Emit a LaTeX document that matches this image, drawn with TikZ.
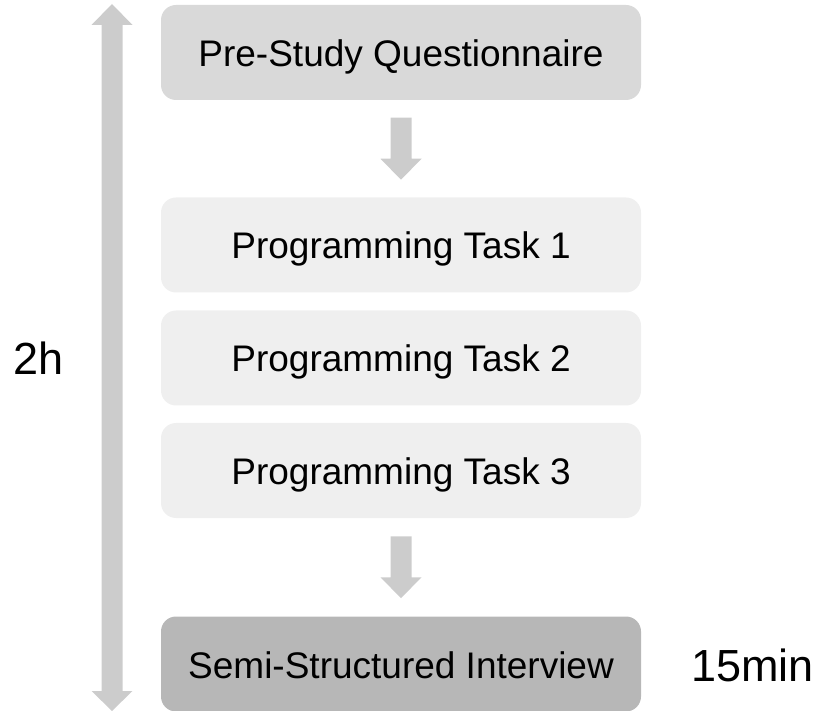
\documentclass[tikz,border=0pt]{standalone}
\usepackage{fontspec}
\setmainfont{Liberation Sans}
\usetikzlibrary{calc}
\definecolor{preGrey}{HTML}{D9D9D9}
\definecolor{taskGrey}{HTML}{EFEFEF}
\definecolor{intGrey}{HTML}{B7B7B7}
\definecolor{arrowGrey}{HTML}{CCCCCC}
\tikzset{
  stage/.style={rounded corners=15pt, minimum width=480pt, minimum height=95pt,
    inner sep=0pt, text height=28pt, text depth=0pt,
    font=\fontsize{37}{44}\selectfont, text=black},
  prestage/.style={stage, fill=preGrey},
  taskstage/.style={stage, fill=taskGrey},
  intstage/.style={stage, fill=intGrey},
  timelabel/.style={inner sep=0pt, font=\fontsize{45}{54}\selectfont, text=black},
  blockarrow/.style={fill=arrowGrey, draw=none},
}
% downward block arrow centred between two coordinates
\newcommand{\blockdown}[2]{%
  \coordinate (bc) at ($(#1)!0.5!(#2)$);
  \fill[blockarrow] ($(bc)+(-10.5,-31)$) -- ($(bc)+(10.5,-31)$) -- ($(bc)+(10.5,10)$)
    -- ($(bc)+(20.5,10)$) -- ($(bc)+(0,31)$) -- ($(bc)+(-20.5,10)$)
    -- ($(bc)+(-10.5,10)$) -- cycle;}
\begin{document}
\begin{tikzpicture}[x=1pt, y=-1pt]
\useasboundingbox (0,0) rectangle (820,711);

\node[prestage]  (pre) at (401,52.5) {Pre-Study Questionnaire};
\node[taskstage] (t1)  at (401,245)  {Programming Task 1};
\node[taskstage] (t2)  at (401,358)  {Programming Task 2};
\node[taskstage] (t3)  at (401,470.5){Programming Task 3};
\node[intstage]  (int) at (401,664)  {Semi-Structured Interview};

\blockdown{pre.south}{t1.north}
\blockdown{t3.south}{int.north}

% overall duration: double-headed block arrow
\coordinate (ttop) at (112,4);
\coordinate (tbot) at (112,711);
\fill[blockarrow] (ttop) -- ($(ttop)+(20.5,21)$) -- ($(ttop)+(10.5,21)$)
  -- ($(tbot)+(10.5,-20)$) -- ($(tbot)+(20.5,-20)$) -- (tbot)
  -- ($(tbot)+(-20.5,-20)$) -- ($(tbot)+(-10.5,-20)$)
  -- ($(ttop)+(-10.5,21)$) -- ($(ttop)+(-20.5,21)$) -- cycle;

\node[timelabel, anchor=base] (two) at (39,375) {2h};
\node[timelabel, anchor=base west] (fifteen) at (691,681) {15min};
\end{tikzpicture}
\end{document}
